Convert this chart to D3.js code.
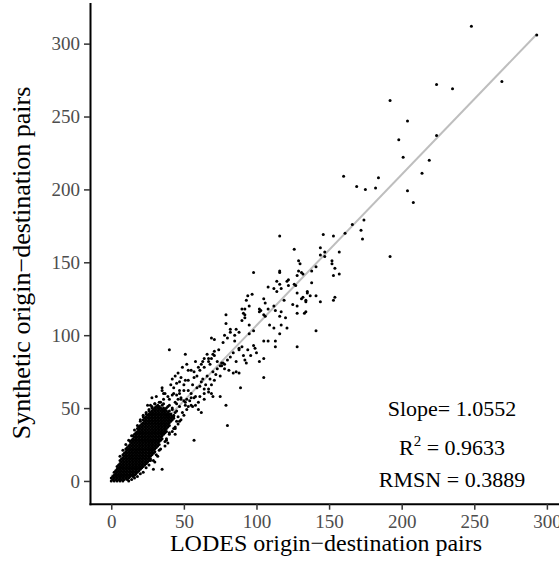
<!DOCTYPE html>
<html>
<head>
<meta charset="utf-8">
<script src="https://cdn.jsdelivr.net/npm/d3@7"></script>
<style>
body { margin: 0; background: #fff; }
svg { display: block; }
</style>
</head>
<body>
<script>
// LODES vs synthetic origin-destination pair counts
// sparse pairs: [LODES, Synthetic]
var scatterPairs = [
  [248,312],[293,306],[192,261],[224,272],[235,269],[269,274],[204,247],[224,237],[198,234],
  [201,222],[219,220],[214,211],[160,209],[184,208],[169,202],[175,200],[182,201],[204,199],[208,191],
  [166,176],[174,179],[161,170],[172,172],[173,166],[192,154],
  [146,169],[153,168],[116,168],[144,160],[126,159],[144,155],[147,157],[147,154],[157,157],[129,151],
  [130,149],[152,151],[152,149],[154,146],[141,147],[138,144],[129,144],[116,144],[116,143],[131,143],
  [132,142],[98,143],[128,141],[153,141],[157,142],[122,138],[121,137],[114,137],[116,135],[122,134],
  [126,135],[127,134],[138,136],[108,133],[112,132],[117,132],[114,130],[128,129],[135,130],[135,129],
  [137,127],[132,126],[134,124],[131,125],[141,127],[94,127],[97,128],[93,124],[95,120],[105,125],
  [106,122],[119,124],[125,121],[128,120],[144,123],[153,124],[154,126],[90,118],[92,118],[91,115],
  [92,112],[79,114],[102,118],[103,117],[105,114],[106,113],[113,117],[117,116],[128,115],[134,116],
  [92,114],[90,110],[79,108],[82,104],[85,100],[88,102],[95,107],[98,103],[95,101],[69,98],[71,97],
  [77,95],[85,96],[90,92],[98,93],[99,91],[88,90],[91,86],[92,83],[94,90],[96,86],[40,90],[51,87],
  [66,87],[71,89],[70,87],[63,82],[67,84],[68,80],[73,82],[75,79],[76,81],[77,81],[78,77],[81,76],
  [84,74],[86,75],[88,74],[89,64],[105,71],[79,52],[80,38],[57,28],[53,76],[55,76],[57,71],[47,68],
  [51,69],[48,71],[50,62],[59,64],[61,65],[64,63],[67,61],[69,60],[64,56],[70,58],[75,58],[35,62],
  [36,56],[28,57],[25,52],[43,60],[45,59],[40,56],[46,56],[50,55],[52,56],[55,52],[56,51],[60,54],
  [52,49],[50,45],[48,42],[46,39],[44,36],[44,32],[40,33],[38,28],[37,24],[33,21],[32,17],[29,8],
  [35,8],[24,12],[27,14],[30,13],
  [102,116],[108,118],[112,120],[116,113],[120,112],[134,123],[133,115],[109,107],[112,105],[117,107],
  [121,105],[116,101],[105,96],[108,96],[113,96],[113,92],[128,92],[141,103],[102,82],[105,84],
  [100,88],[93,81],
  [35,64],[36,60],[42,59],[47,60],[48,56],[51,54],[53,51],[55,57],[58,52],[60,49],[62,47],[44,47],
  [46,44],[47,41],[44,37],[42,34],[38,29],[39,26],
  [38,50],[40,52],[42,50],[45,53],[47,51],[48,57],[53,62],[55,60],[56,66],[58,58],[62,68],[63,70],
  [65,66],[66,72],[68,70],[70,75],[72,73],[73,77],[75,72],[76,79],[78,80],[80,83],[82,85],[84,88],
  [86,82],[88,91],[36,48],[38,45],[41,46],[43,44],[49,47],[51,52],[54,55],[57,57],[61,58],[64,60],
  [67,63],[69,66],[71,69],[39,58],[37,60],[43,64],[45,67],[47,62],[41,66],[34,54],[32,52],[30,53],
  [28,50],[31,58],[42,70],[44,72],[46,74],[49,78],[52,80],[58,82],[60,78],[62,80],[64,84],[74,90],
  [78,100],[80,98],[82,102],[86,104],[50,66],[53,69],[57,75],[59,72],[61,76],[64,78],[67,82],[69,84],
  [71,86],[26,48],[24,46],[33,50],[35,52],[40,48],[44,54],[30,50],[27,52],[22,44],[20,42],
  // ragged edges of the core
  [6,17],[8,21],[10,25],[12,28],[14,31],[16,35],[18,38],[20,41],[22,45],[24,47],[26,49],[28,51],
  [30,53],[33,54],[36,53],[39,51],[42,49],[45,48],
  [12,0],[14,1],[16,2],[18,3],[20,5],[22,6],[24,9],[26,11],[29,14],[31,18],[34,22],[37,27],[40,32],
  [43,36],[45,41]
];

// the solid core near the origin: "LODES: synthetic synthetic ..."
var coreColumns = [
  "0: 0 2",
  "1: 1 3",
  "2: 0 2 4 6",
  "3: 1 3 5 7",
  "4: 0 2 4 6 8 10",
  "5: 1 3 5 7 9 11",
  "6: 0 2 4 6 8 10 12 14",
  "7: 1 3 5 7 9 11 13 15",
  "8: 0 2 4 6 8 10 12 14 16 18",
  "9: 1 3 5 7 9 11 13 15 17 19",
  "10: 2 4 6 8 10 12 14 16 18 20 22",
  "11: 1 3 5 7 9 11 13 15 17 19 21 23",
  "12: 2 4 6 8 10 12 14 16 18 20 22 24",
  "13: 3 5 7 9 11 13 15 17 19 21 23 25 27",
  "14: 4 6 8 10 12 14 16 18 20 22 24 26 28",
  "15: 3 5 7 9 11 13 15 17 19 21 23 25 27 29 31",
  "16: 4 6 8 10 12 14 16 18 20 22 24 26 28 30 32",
  "17: 5 7 9 11 13 15 17 19 21 23 25 27 29 31 33",
  "18: 6 8 10 12 14 16 18 20 22 24 26 28 30 32 34 36",
  "19: 7 9 11 13 15 17 19 21 23 25 27 29 31 33 35 37",
  "20: 8 10 12 14 16 18 20 22 24 26 28 30 32 34 36 38",
  "21: 9 11 13 15 17 19 21 23 25 27 29 31 33 35 37 39",
  "22: 10 12 14 16 18 20 22 24 26 28 30 32 34 36 38 40 42",
  "23: 11 13 15 17 19 21 23 25 27 29 31 33 35 37 39 41 43",
  "24: 12 14 16 18 20 22 24 26 28 30 32 34 36 38 40 42 44",
  "25: 13 15 17 19 21 23 25 27 29 31 33 35 37 39 41 43 45",
  "26: 14 16 18 20 22 24 26 28 30 32 34 36 38 40 42 44 46",
  "27: 15 17 19 21 23 25 27 29 31 33 35 37 39 41 43 45 47",
  "28: 18 20 22 24 26 28 30 32 34 36 38 40 42 44 46 48",
  "29: 19 21 23 25 27 29 31 33 35 37 39 41 43 45 47 49",
  "30: 20 22 24 26 28 30 32 34 36 38 40 42 44 46 48 50",
  "31: 23 25 27 29 31 33 35 37 39 41 43 45 47 49 51",
  "32: 24 26 28 30 32 34 36 38 40 42 44 46 48 50",
  "33: 25 27 29 31 33 35 37 39 41 43 45 47 49 51",
  "34: 28 30 32 34 36 38 40 42 44 46 48 50",
  "35: 29 31 33 35 37 39 41 43 45 47 49",
  "36: 32 34 36 38 40 42 44 46 48 50",
  "37: 33 35 37 39 41 43 45 47 49",
  "38: 34 36 38 40 42 44 46 48",
  "39: 37 39 41 43 45 47",
  "40: 38 40 42 44 46",
  "41: 41 43 45",
  "42: 42 44",
  "43: 43 45"
];

// fitted line (LODES range 0 - 293)
var fitRange = [0, 293];
var fitIntercept = 3.2, fitSlope = 1.035;

var xTicks = [0, 50, 100, 150, 200, 250, 300];
var yTicks = [0, 50, 100, 150, 200, 250, 300];
var statText = ["Slope= 1.0552", "0.9633", "RMSN = 0.3889"];

function main() {
  var width = 559, height = 562;
  var panel = {left: 90, right: 558, top: 3.4, bottom: 503.7};
  var font = "'Liberation Serif', 'Times New Roman', Times, serif";

  var points = scatterPairs.map(function(p) { return {x: p[0], y: p[1]}; });
  coreColumns.forEach(function(row) {
    var parts = row.split(":");
    var xv = +parts[0];
    parts[1].trim().split(" ").forEach(function(v) { points.push({x: xv, y: +v}); });
  });

  // ggplot style 5% expansion
  function expand(ext) {
    var pad = (ext[1] - ext[0]) * 0.05;
    return [ext[0] - pad, ext[1] + pad];
  }

  var x = d3.scaleLinear()
      .domain(expand(d3.extent(points, function(d) { return d.x; })))
      .range([panel.left, panel.right]);
  var y = d3.scaleLinear()
      .domain(expand(d3.extent(points, function(d) { return d.y; })))
      .range([panel.bottom, panel.top]);

  var svg = d3.select("body").append("svg")
      .attr("width", width)
      .attr("height", height)
      .style("font-family", font);

  // regression line first, points over it
  svg.append("line")
      .attr("x1", x(fitRange[0]))
      .attr("y1", y(fitIntercept + fitSlope * fitRange[0]))
      .attr("x2", x(fitRange[1]))
      .attr("y2", y(fitIntercept + fitSlope * fitRange[1]))
      .attr("stroke", "#bebebe")
      .attr("stroke-width", 2);

  svg.append("g").selectAll("circle")
      .data(points)
      .enter().append("circle")
      .attr("cx", function(d) { return x(d.x); })
      .attr("cy", function(d) { return y(d.y); })
      .attr("r", 1.5)
      .attr("fill", "#000");

  var xAxis = svg.append("g")
      .attr("transform", "translate(0," + panel.bottom + ")")
      .call(d3.axisBottom(x).tickValues(xTicks).tickSize(6).tickSizeOuter(0).tickPadding(5));
  var yAxis = svg.append("g")
      .attr("transform", "translate(" + panel.left + ",0)")
      .call(d3.axisLeft(y).tickValues(yTicks).tickSize(6).tickSizeOuter(0).tickPadding(4));

  [xAxis, yAxis].forEach(function(g) {
    g.select(".domain").attr("stroke", "#000").attr("stroke-width", 2).attr("stroke-linecap", "square");
    g.selectAll(".tick line").attr("stroke", "#333").attr("stroke-width", 1.5);
    g.selectAll(".tick text")
        .attr("fill", "#4d4d4d")
        .style("font-family", font)
        .style("font-size", "19px");
  });

  svg.append("text")
      .attr("x", (panel.left + panel.right) / 2 + 2)
      .attr("y", 551)
      .attr("text-anchor", "middle")
      .style("font-size", "24px")
      .text("LODES origin\u2212destination pairs");

  svg.append("text")
      .attr("transform", "translate(30,263) rotate(-90)")
      .attr("text-anchor", "middle")
      .style("font-size", "26px")
      .text("Synthetic origin\u2212destination pairs");

  // statistics text
  var statX = 452;
  svg.append("text")
      .attr("x", statX).attr("y", 416)
      .attr("text-anchor", "middle")
      .style("font-size", "22px")
      .text(statText[0]);

  var r2 = svg.append("text")
      .attr("x", statX).attr("y", 455)
      .attr("text-anchor", "middle")
      .style("font-size", "22px");
  r2.append("tspan").text("R");
  r2.append("tspan").attr("dy", -9).style("font-size", "15px").text("2");
  r2.append("tspan").attr("dy", 9).text(" = " + statText[1]);

  svg.append("text")
      .attr("x", statX).attr("y", 487)
      .attr("text-anchor", "middle")
      .style("font-size", "22px")
      .text(statText[2]);
}

main();
</script>
</body>
</html>
